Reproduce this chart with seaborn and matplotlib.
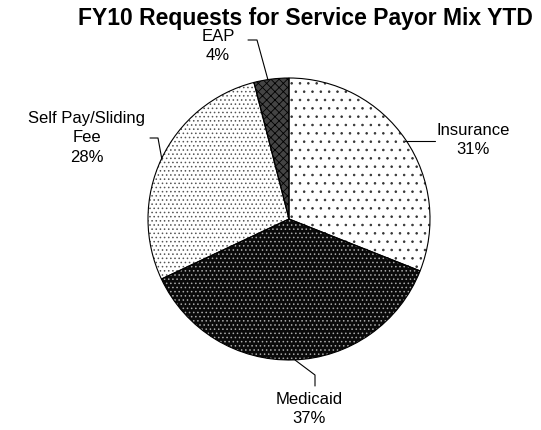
import matplotlib
matplotlib.use("Agg")
import matplotlib.pyplot as plt
import seaborn as sns

categories = ["Insurance", "Medicaid", "Self Pay/Sliding\nFee", "EAP"]
shares = [31, 37, 28, 4]
pct_labels = ["31%", "37%", "28%", "4%"]

sns.set_theme(style="white")
plt.rcParams['font.family'] = ['Liberation Sans', 'DejaVu Sans']
plt.rcParams['hatch.linewidth'] = 0.6
plt.rcParams['text.color'] = 'black'

W, H = 541, 430
CX, CY, R = 289, 219, 141
fig = plt.figure(figsize=(W / 100, H / 100), dpi=100)
fig.patch.set_facecolor("white")
ax = fig.add_axes([(CX - R) / W, (H - CY - R) / H, 2 * R / W, 2 * R / H])

def d(px, py):
    return ((px - CX) / R, (CY - py) / R)

faces = ["white", "#0a0a0a", "white", "#444444"]
hatch_cols = ["#333333", "#aaaaaa", "#555555", "#000000"]
hatches = ["..", "....", "....", "xxxx"]

wedges, _ = ax.pie(shares, startangle=90, counterclock=False, radius=1,
                   colors=faces)
for w, hc, ht in zip(wedges, hatch_cols, hatches):
    w.set_edgecolor(hc)
    w.set_hatch(ht)
    w.set_linewidth(0)
outline, _ = ax.pie(shares, startangle=90, counterclock=False, radius=1,
                    colors=["none"] * 4,
                    wedgeprops=dict(edgecolor="black", linewidth=0.8))
ax.set_xlim(-1, 1)
ax.set_ylim(-1, 1)
ax.axis("off")

# labels
label_pos = [(473, 140), (309, 409), (87, 138), (218, 46)]
for cat, pct, (px, py) in zip(categories, pct_labels, label_pos):
    x, y = d(px, py)
    ax.text(x, y, f"{cat}\n{pct}", ha="center", va="center", fontsize=12,
            linespacing=1.38, color="black")

leaders = [
    [(405, 141), (435, 141)],
    [(295, 360), (315, 375), (315, 386)],
    [(162, 160), (158, 138), (150, 138)],
    [(268, 80), (257, 40), (248, 40)],
]
for pts in leaders:
    xs, ys = zip(*[d(*p) for p in pts])
    ax.plot(xs, ys, color="black", linewidth=0.8, clip_on=False)

fig.text(305 / W, 1 - 18 / H, "FY10 Requests for Service Payor Mix YTD",
         ha="center", va="center", fontsize=16.5, fontweight="bold",
         color="black")

fig.savefig("out.png", dpi=100, facecolor="white")
